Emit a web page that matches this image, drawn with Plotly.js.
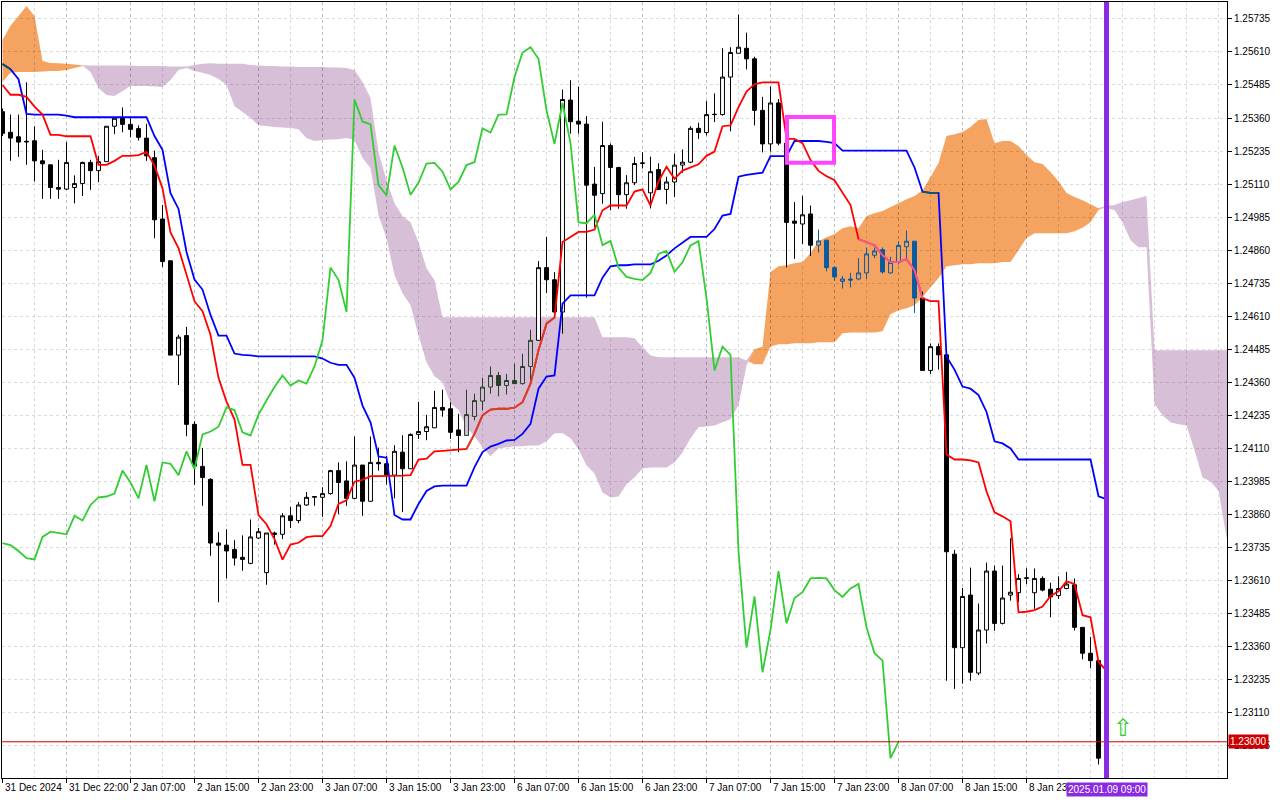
<!DOCTYPE html>
<html>
<head>
<meta charset="utf-8">
<script src="https://cdn.plot.ly/plotly-3.0.1.min.js"></script>
<style>
html,body{margin:0;padding:0;background:#ffffff;}
#chart{width:1280px;height:800px;}
</style>
</head>
<body>
<div id="chart"></div>
<script>
// ---------- time axis labels (bar index -> label) ----------
const labelBars = [0,8,16,24,32,40,48,56,64,72,80,88,96,104,112,120,128];
const labelTexts = ["31 Dec 2024","31 Dec 22:00","2 Jan 07:00","2 Jan 15:00","2 Jan 23:00",
  "3 Jan 07:00","3 Jan 15:00","3 Jan 23:00","6 Jan 07:00","6 Jan 15:00","6 Jan 23:00",
  "7 Jan 07:00","7 Jan 15:00","7 Jan 23:00","8 Jan 07:00","8 Jan 15:00","8 Jan 23:00"];

// ---------- H1 candles ----------
const candleOpen = [1.25384,1.25306,1.25289,1.25272,1.25274,1.25198,1.25183,1.25097,1.25091,1.25097,
1.25112,1.25192,1.25161,1.25195,1.25329,1.25359,1.25336,1.25320,1.25284,1.25210,
1.24978,1.24820,1.24463,1.24537,1.24201,1.24042,1.23993,1.23752,1.23744,1.23728,
1.23698,1.23675,1.23771,1.23640,1.23790,1.23785,1.23855,1.23837,1.23896,1.23925,
1.23925,1.23939,1.24026,1.23987,1.23921,1.24047,1.23910,1.24057,1.24052,1.24009,
1.24096,1.24033,1.24163,1.24174,1.24188,1.24265,1.24260,1.24180,1.24159,1.24231,
1.24289,1.24342,1.24386,1.24348,1.24367,1.24355,1.24420,1.24519,1.24794,1.24748,
1.24626,1.25428,1.25348,1.25337,1.25110,1.25074,1.25256,1.25173,1.25070,1.25115,
1.25188,1.25077,1.25165,1.25090,1.25118,1.25182,1.25193,1.25321,1.25305,1.25373,
1.25373,1.25515,1.25605,1.25624,1.25584,1.25389,1.25262,1.25417,1.25265,1.24970,
1.24959,1.24997,1.24879,1.24898,1.24794,1.24742,1.24751,1.24751,1.24774,1.24841,
1.24862,1.24774,1.24814,1.24873,1.24894,1.24679,1.24405,1.24495,1.24464,1.23710,
1.23356,1.23555,1.23260,1.23423,1.23646,1.23448,1.23555,1.23564,1.23618,1.23564,
1.23618,1.23577,1.23553,1.23580,1.23594,1.23433,1.23335,1.23307,1.22940];
const candleHigh = [1.25396,1.25373,1.25373,1.25495,1.25329,1.25240,1.25183,1.25202,1.25269,1.25143,
1.25195,1.25202,1.25217,1.25329,1.25359,1.25400,1.25359,1.25332,1.25338,1.25237,
1.25031,1.24820,1.24540,1.24570,1.24213,1.24112,1.23997,1.23793,1.23804,1.23763,
1.23781,1.23841,1.23809,1.23790,1.23795,1.23865,1.23889,1.23907,1.23945,1.23928,
1.23963,1.24029,1.24057,1.24061,1.24155,1.24047,1.24155,1.24113,1.24082,1.24122,
1.24160,1.24167,1.24286,1.24237,1.24328,1.24332,1.24285,1.24241,1.24332,1.24317,
1.24377,1.24420,1.24399,1.24392,1.24430,1.24468,1.24559,1.24819,1.24910,1.24777,
1.25468,1.25503,1.25478,1.25367,1.25175,1.25346,1.25264,1.25175,1.25144,1.25213,
1.25230,1.25214,1.25189,1.25138,1.25225,1.25241,1.25329,1.25342,1.25424,1.25453,
1.25624,1.25628,1.25751,1.25683,1.25592,1.25440,1.25480,1.25432,1.25265,1.25042,
1.25066,1.25029,1.24938,1.24898,1.24800,1.24762,1.24774,1.24830,1.24870,1.24870,
1.24870,1.24835,1.24894,1.24934,1.24894,1.24703,1.24507,1.24507,1.24472,1.23726,
1.23582,1.23659,1.23523,1.23678,1.23667,1.23667,1.23770,1.23634,1.23656,1.23656,
1.23626,1.23602,1.23626,1.23643,1.23618,1.23433,1.23397,1.23307,1.23005];
const candleLow = [1.25292,1.25198,1.25213,1.25183,1.25120,1.25054,1.25054,1.25054,1.25088,1.25037,
1.25065,1.25088,1.25118,1.25195,1.25299,1.25306,1.25287,1.25275,1.25198,1.24905,
1.24796,1.24463,1.24350,1.24156,1.23972,1.23893,1.23704,1.23528,1.23618,1.23667,
1.23647,1.23672,1.23767,1.23594,1.23746,1.23767,1.23809,1.23827,1.23893,1.23893,
1.23851,1.23935,1.23861,1.23893,1.23917,1.23855,1.23910,1.24026,1.23973,1.23921,
1.23869,1.24033,1.24146,1.24141,1.24188,1.24230,1.24146,1.24096,1.24159,1.24216,
1.24254,1.24317,1.24307,1.24314,1.24355,1.24352,1.24355,1.24519,1.24698,1.24601,
1.24544,1.25301,1.25301,1.24680,1.24948,1.25036,1.25011,1.25017,1.25017,1.25106,
1.25169,1.25018,1.25087,1.25034,1.25061,1.25153,1.25189,1.25281,1.25294,1.25345,
1.25369,1.25310,1.25605,1.25544,1.25332,1.25230,1.25233,1.25257,1.24795,1.24827,
1.24883,1.24838,1.24851,1.24780,1.24745,1.24715,1.24719,1.24746,1.24751,1.24830,
1.24771,1.24771,1.24806,1.24822,1.24623,1.24405,1.24392,1.24408,1.23231,1.23200,
1.23220,1.23231,1.23252,1.23372,1.23420,1.23444,1.23534,1.23528,1.23597,1.23503,
1.23569,1.23471,1.23541,1.23577,1.23421,1.23312,1.23279,1.22914,1.22935];
const candleClose = [1.25302,1.25284,1.25269,1.25270,1.25198,1.25187,1.25097,1.25091,1.25192,1.25112,
1.25192,1.25161,1.25195,1.25329,1.25359,1.25336,1.25317,1.25287,1.25217,1.24975,
1.24817,1.24463,1.24531,1.24201,1.24043,1.24000,1.23752,1.23744,1.23722,1.23695,
1.23690,1.23775,1.23795,1.23790,1.23785,1.23855,1.23837,1.23896,1.23925,1.23928,
1.23939,1.24026,1.23981,1.23921,1.24047,1.23910,1.24057,1.24052,1.24009,1.24099,
1.24033,1.24163,1.24174,1.24192,1.24265,1.24255,1.24171,1.24159,1.24238,1.24291,
1.24342,1.24386,1.24348,1.24367,1.24355,1.24420,1.24519,1.24794,1.24748,1.24626,
1.25430,1.25346,1.25337,1.25106,1.25068,1.25256,1.25173,1.25070,1.25115,1.25188,
1.25190,1.25157,1.25090,1.25118,1.25182,1.25193,1.25321,1.25305,1.25373,1.25374,
1.25515,1.25608,1.25628,1.25584,1.25389,1.25262,1.25417,1.25265,1.24965,1.24962,
1.24994,1.24879,1.24895,1.24794,1.24759,1.24751,1.24747,1.24774,1.24846,1.24857,
1.24778,1.24814,1.24878,1.24894,1.24679,1.24405,1.24495,1.24464,1.23719,1.23356,
1.23550,1.23263,1.23423,1.23646,1.23448,1.23544,1.23566,1.23618,1.23620,1.23618,
1.23574,1.23548,1.23580,1.23597,1.23433,1.23335,1.23307,1.22938,1.23000];

// ---------- Ichimoku lines ----------
const tenkan = [1.25485,1.25448,1.25448,1.25440,1.25403,1.25373,1.25296,1.25296,1.25291,1.25291,
1.25291,1.25291,1.25183,1.25183,1.25198,1.25217,1.25217,1.25220,1.25232,1.25180,
1.25094,1.24927,1.24868,1.24763,1.24667,1.24629,1.24540,1.24377,1.24287,1.24220,
1.24048,1.24048,1.23858,1.23823,1.23767,1.23689,1.23746,1.23753,1.23774,1.23778,
1.23778,1.23816,1.23900,1.23914,1.23984,1.23991,1.24005,1.24005,1.24005,1.24007,
1.24007,1.24009,1.24068,1.24071,1.24099,1.24101,1.24104,1.24107,1.24108,1.24165,
1.24235,1.24257,1.24260,1.24260,1.24264,1.24285,1.24355,1.24481,1.24582,1.24605,
1.24891,1.24910,1.24929,1.24929,1.24938,1.25011,1.25029,1.25029,1.25029,1.25082,
1.25090,1.25029,1.25120,1.25176,1.25130,1.25161,1.25173,1.25185,1.25217,1.25233,
1.25329,1.25332,1.25401,1.25460,1.25488,1.25495,1.25495,1.25495,1.25281,1.25281,
1.25265,1.25201,1.25160,1.25140,1.25125,1.25076,1.25031,1.24902,1.24890,1.24879,
1.24841,1.24815,1.24815,1.24826,1.24784,1.24678,1.24667,1.24667,1.24087,1.24068,
1.24068,1.24065,1.24057,1.23947,1.23868,1.23853,1.23834,1.23490,1.23492,1.23498,
1.23512,1.23552,1.23569,1.23607,1.23597,1.23479,1.23471,1.23302,1.23269];
const kijun = [1.25564,1.25545,1.25507,1.25376,1.25373,1.25373,1.25373,1.25373,1.25369,1.25363,
1.25363,1.25363,1.25363,1.25363,1.25363,1.25363,1.25363,1.25363,1.25363,1.25292,
1.25240,1.25076,1.25016,1.24853,1.24749,1.24711,1.24615,1.24537,1.24537,1.24469,
1.24464,1.24462,1.24458,1.24458,1.24458,1.24458,1.24458,1.24458,1.24458,1.24458,
1.24450,1.24434,1.24426,1.24426,1.24377,1.24272,1.24209,1.24080,1.24075,1.23858,
1.23841,1.23841,1.23900,1.23949,1.23966,1.23969,1.23969,1.23969,1.23969,1.24039,
1.24096,1.24117,1.24127,1.24140,1.24142,1.24165,1.24203,1.24336,1.24382,1.24386,
1.24658,1.24689,1.24689,1.24689,1.24689,1.24756,1.24799,1.24803,1.24803,1.24806,
1.24806,1.24806,1.24820,1.24840,1.24867,1.24890,1.24910,1.24910,1.24910,1.24940,
1.24991,1.24997,1.25138,1.25145,1.25150,1.25153,1.25216,1.25216,1.25216,1.25273,
1.25273,1.25273,1.25273,1.25270,1.25265,1.25237,1.25237,1.25237,1.25237,1.25237,
1.25237,1.25237,1.25237,1.25237,1.25173,1.25081,1.25077,1.25077,1.24457,1.24408,
1.24344,1.24336,1.24312,1.24248,1.24137,1.24129,1.24110,1.24068,1.24068,1.24068,
1.24068,1.24068,1.24068,1.24068,1.24068,1.24068,1.24068,1.23929,1.23918];
const chikou = [1.23752,1.23744,1.23722,1.23695,1.23690,1.23775,1.23795,1.23790,1.23785,1.23855,
1.23837,1.23896,1.23925,1.23928,1.23939,1.24026,1.23981,1.23921,1.24047,1.23910,
1.24057,1.24052,1.24009,1.24099,1.24033,1.24163,1.24174,1.24192,1.24265,1.24255,
1.24171,1.24159,1.24238,1.24291,1.24342,1.24386,1.24348,1.24367,1.24355,1.24420,
1.24519,1.24794,1.24748,1.24626,1.25430,1.25346,1.25337,1.25106,1.25068,1.25256,
1.25173,1.25070,1.25115,1.25188,1.25190,1.25157,1.25090,1.25118,1.25182,1.25193,
1.25321,1.25305,1.25373,1.25374,1.25515,1.25608,1.25628,1.25584,1.25389,1.25262,
1.25417,1.25265,1.24965,1.24962,1.24994,1.24879,1.24895,1.24794,1.24759,1.24751,
1.24747,1.24774,1.24846,1.24857,1.24778,1.24814,1.24878,1.24894,1.24679,1.24405,
1.24495,1.24464,1.23719,1.23356,1.23550,1.23263,1.23423,1.23646,1.23448,1.23544,
1.23566,1.23618,1.23620,1.23618,1.23574,1.23548,1.23580,1.23597,1.23433,1.23335,
1.23307,1.22938,1.23000];
const spanA = [1.25655,1.25709,1.25746,1.25784,1.25746,1.25576,1.25568,1.25567,1.25565,1.25563,
1.25559,1.25534,1.25474,1.25447,1.25443,1.25462,1.25481,1.25481,1.25481,1.25479,
1.25477,1.25504,1.25542,1.25549,1.25538,1.25531,1.25523,1.25508,1.25485,1.25405,
1.25383,1.25360,1.25333,1.25330,1.25326,1.25324,1.25322,1.25318,1.25284,1.25273,
1.25277,1.25279,1.25280,1.25284,1.25277,1.25209,1.25171,1.24993,1.24905,1.24765,
1.24697,1.24652,1.24538,1.24436,1.24383,1.24360,1.24280,1.24255,1.24190,1.24155,
1.24114,1.24080,1.24110,1.24114,1.24118,1.24118,1.24121,1.24121,1.24137,1.24167,
1.24167,1.24148,1.24106,1.24046,1.24015,1.23943,1.23924,1.23928,1.23974,1.24000,
1.24034,1.24038,1.24038,1.24038,1.24057,1.24095,1.24148,1.24190,1.24193,1.24197,
1.24209,1.24220,1.24273,1.24424,1.24485,1.24496,1.24777,1.24799,1.24803,1.24811,
1.24815,1.24849,1.24894,1.24909,1.24921,1.24943,1.24951,1.24943,1.24989,1.25000,
1.25008,1.25023,1.25038,1.25053,1.25065,1.25087,1.25137,1.25190,1.25292,1.25299,
1.25307,1.25326,1.25353,1.25356,1.25265,1.25273,1.25273,1.25254,1.25220,1.25193,
1.25186,1.25156,1.25121,1.25076,1.25061,1.25049,1.25034,1.25019,1.25019,1.25012,
1.24966,1.24898,1.24871,1.24871,1.24277,1.24235,1.24209,1.24201,1.24197,1.24103,
1.24000,1.23985,1.23950,1.23773,1.23773];
const spanB = [1.25496,1.25531,1.25534,1.25534,1.25534,1.25536,1.25538,1.25538,1.25542,1.25549,
1.25557,1.25559,1.25559,1.25559,1.25559,1.25559,1.25559,1.25557,1.25557,1.25557,
1.25557,1.25555,1.25555,1.25555,1.25561,1.25565,1.25567,1.25565,1.25565,1.25565,
1.25565,1.25561,1.25559,1.25557,1.25557,1.25555,1.25555,1.25553,1.25553,1.25553,
1.25553,1.25551,1.25551,1.25549,1.25542,1.25496,1.25436,1.25231,1.25125,1.25038,
1.24989,1.24966,1.24890,1.24792,1.24746,1.24606,1.24606,1.24606,1.24606,1.24606,
1.24606,1.24606,1.24606,1.24606,1.24606,1.24606,1.24606,1.24606,1.24606,1.24606,
1.24606,1.24606,1.24606,1.24606,1.24606,1.24531,1.24531,1.24531,1.24531,1.24527,
1.24493,1.24462,1.24455,1.24455,1.24455,1.24455,1.24455,1.24455,1.24455,1.24455,
1.24455,1.24455,1.24455,1.24443,1.24428,1.24428,1.24496,1.24504,1.24504,1.24508,
1.24508,1.24508,1.24512,1.24512,1.24512,1.24546,1.24549,1.24549,1.24549,1.24549,
1.24553,1.24618,1.24633,1.24640,1.24652,1.24682,1.24720,1.24754,1.24799,1.24803,
1.24807,1.24807,1.24811,1.24811,1.24811,1.24815,1.24815,1.24860,1.24906,1.24924,
1.24924,1.24924,1.24924,1.24924,1.24932,1.24945,1.24966,1.25012,1.25027,1.25031,
1.25042,1.25049,1.25057,1.25065,1.24481,1.24481,1.24481,1.24481,1.24481,1.24481,
1.24481,1.24481,1.24481,1.24481,1.24481];

// ---------- chart objects ----------
const bidPrice = 1.23000;
const cursorBar = 138;
const cursorLabel = "2025.01.09 09:00";
const boxBars = [98.06, 103.94];
const boxPrices = [1.25191, 1.25364];
const arrowBar = 140;
const arrowPrice = 1.23053;

// ---------- style: where the kumo (drawn in XOR mode by the terminal) tints marks ----------
const bullKumo = '#f4a460', bearKumo = '#d8bfd8';
const candlesInBullKumo = [102, 114];
const candlesInBearKumo = [58, 66];
const tenkanInBullKumo = [[107, 115]];
const tenkanInBearKumo = [[58, 69]];
const kijunInBullKumo = [[0, 1], [115, 117]];

// ---------- build ----------
const idx = n => Array.from({length: n}, (_, i) => i);
const inR = (i, r) => i >= r[0] && i <= r[1];

const hiSpan = spanA.map((a, i) => Math.max(a, spanB[i]));
function bandPath(lower, upper) {
  const n = lower.length;
  let s = '';
  for (let i = 0; i < n; i++) s += (i === 0 ? 'M' : 'L') + i + ',' + lower[i];
  for (let i = n - 1; i >= 0; i--) s += 'L' + i + ',' + upper[i];
  return s + 'Z';
}

function candleTrace(ids, lineCol, upFill, downFill) {
  return {
    type: 'candlestick', x: ids,
    open: ids.map(i => candleOpen[i]), high: ids.map(i => candleHigh[i]),
    low: ids.map(i => candleLow[i]), close: ids.map(i => candleClose[i]),
    increasing: {line: {color: lineCol, width: 1}, fillcolor: upFill},
    decreasing: {line: {color: lineCol, width: 1}, fillcolor: downFill},
    whiskerwidth: 0, hoverinfo: 'skip', showlegend: false
  };
}
function segTrace(arr, ranges, color) {
  const xs = [], ys = [];
  ranges.forEach((r, k) => {
    if (k > 0) { xs.push(null); ys.push(null); }
    for (let i = r[0]; i <= r[1]; i++) { xs.push(i); ys.push(arr[i]); }
  });
  return {type: 'scatter', mode: 'lines', x: xs, y: ys, connectgaps: false,
          line: {color: color, width: 1.8}, hoverinfo: 'skip', showlegend: false};
}

const allBars = idx(candleOpen.length);
const mainIds = allBars.filter(i => !inR(i, candlesInBullKumo) && !inR(i, candlesInBearKumo));
const bullIds = allBars.filter(i => inR(i, candlesInBullKumo));
const bearIds = allBars.filter(i => inR(i, candlesInBearKumo));

const traces = [
  candleTrace(mainIds, '#000000', '#ffffff', '#000000'),
  candleTrace(bullIds, '#0b5b9f', bullKumo, '#0b5b9f'),
  candleTrace(bearIds, '#274027', bearKumo, '#274027'),
  {type: 'scatter', mode: 'lines', x: idx(kijun.length), y: kijun,
   line: {color: '#0000ff', width: 1.8}, hoverinfo: 'skip', showlegend: false},
  segTrace(kijun, kijunInBullKumo, '#0b5b60'),
  {type: 'scatter', mode: 'lines', x: idx(tenkan.length), y: tenkan,
   line: {color: '#ff0000', width: 1.8}, hoverinfo: 'skip', showlegend: false},
  segTrace(tenkan, tenkanInBullKumo, '#f45b9f'),
  segTrace(tenkan, tenkanInBearKumo, '#d84027'),
  {type: 'scatter', mode: 'lines', x: idx(chikou.length), y: chikou,
   line: {color: '#32cd32', width: 1.8}, hoverinfo: 'skip', showlegend: false}
];

const gridCol = 'rgba(0,0,0,0.14)';
const fontFam = 'Liberation Sans, Arial, sans-serif';
const annotations = labelBars.map((b, i) => ({
  x: b, xref: 'x', y: 0, yref: 'paper', xanchor: 'left', yanchor: 'top',
  yshift: -2, text: labelTexts[i], showarrow: false,
  font: {size: 10, color: '#000000', family: fontFam}
}));
annotations.push({
  x: 1, xref: 'paper', xanchor: 'left', xshift: 1, y: bidPrice, yref: 'y', yanchor: 'middle',
  text: bidPrice.toFixed(5), showarrow: false, bgcolor: '#cc0000', borderpad: 1,
  font: {size: 10, color: '#ffffff', family: fontFam}
});
annotations.push({
  x: cursorBar, xref: 'x', xanchor: 'center', y: 0, yref: 'paper', yanchor: 'top', yshift: -4,
  text: cursorLabel, showarrow: false, bgcolor: '#8a2be2', borderpad: 1,
  font: {size: 10, color: '#ffffff', family: fontFam}
});
annotations.push({
  x: arrowBar, xref: 'x', xanchor: 'center', y: arrowPrice, yref: 'y', yanchor: 'middle',
  text: '\u21E7', showarrow: false,
  font: {size: 24, color: '#32cd32', family: 'DejaVu Sans, sans-serif'}
});

const shapes = [
  {type: 'path', xref: 'x', yref: 'y', layer: 'below', path: bandPath(spanB, hiSpan),
   fillcolor: bullKumo, line: {width: 0}},
  {type: 'path', xref: 'x', yref: 'y', layer: 'below', path: bandPath(spanA, hiSpan),
   fillcolor: bearKumo, line: {width: 0}},
  {type: 'line', xref: 'paper', x0: 0, x1: 1, yref: 'y', y0: bidPrice, y1: bidPrice,
   layer: 'above', line: {color: '#cc0000', width: 1}},
  {type: 'rect', xref: 'x', yref: 'y', x0: boxBars[0], x1: boxBars[1], y0: boxPrices[0], y1: boxPrices[1],
   layer: 'above', line: {color: '#ff44ff', width: 4}, fillcolor: 'rgba(0,0,0,0)'},
  {type: 'line', xref: 'x', x0: cursorBar, x1: cursorBar, yref: 'paper', y0: 0, y1: 1,
   layer: 'above', line: {color: '#8a2be2', width: 5}}
];

const layout = {
  width: 1280, height: 800,
  margin: {l: 2, r: 53, t: 2, b: 22, pad: 0},
  paper_bgcolor: '#ffffff', plot_bgcolor: '#ffffff',
  showlegend: false,
  boxgap: 0.3, boxgroupgap: 0.3,
  font: {family: fontFam, size: 10, color: '#000000'},
  xaxis: {
    range: [-0.0625, 153.06],
    tickmode: 'array', tickvals: labelBars, showticklabels: false,
    ticks: 'outside', ticklen: 4, tickcolor: '#000000', tickwidth: 1,
    showgrid: true, gridcolor: gridCol, griddash: '3px,3px', gridwidth: 1,
    minor: {tickmode: 'linear', tick0: 0, dtick: 4, showgrid: true, gridcolor: gridCol,
            griddash: '3px,3px', gridwidth: 1, ticks: ''},
    showline: true, linecolor: '#000000', linewidth: 1, mirror: true,
    zeroline: false, rangeslider: {visible: false}, fixedrange: true
  },
  yaxis: {
    range: [1.22863, 1.25799], side: 'right',
    tickmode: 'linear', tick0: 1.22985, dtick: 0.00125, tickformat: '.5f',
    ticks: 'outside', ticklen: 4, tickcolor: '#000000', tickwidth: 1,
    tickfont: {size: 10, color: '#000000'},
    showgrid: true, gridcolor: gridCol, griddash: '3px,3px', gridwidth: 1,
    showline: true, linecolor: '#000000', linewidth: 1, mirror: true,
    zeroline: false, fixedrange: true
  },
  shapes: shapes,
  annotations: annotations
};

Plotly.newPlot('chart', traces, layout, {staticPlot: true, displayModeBar: false});
</script>
</body>
</html>
